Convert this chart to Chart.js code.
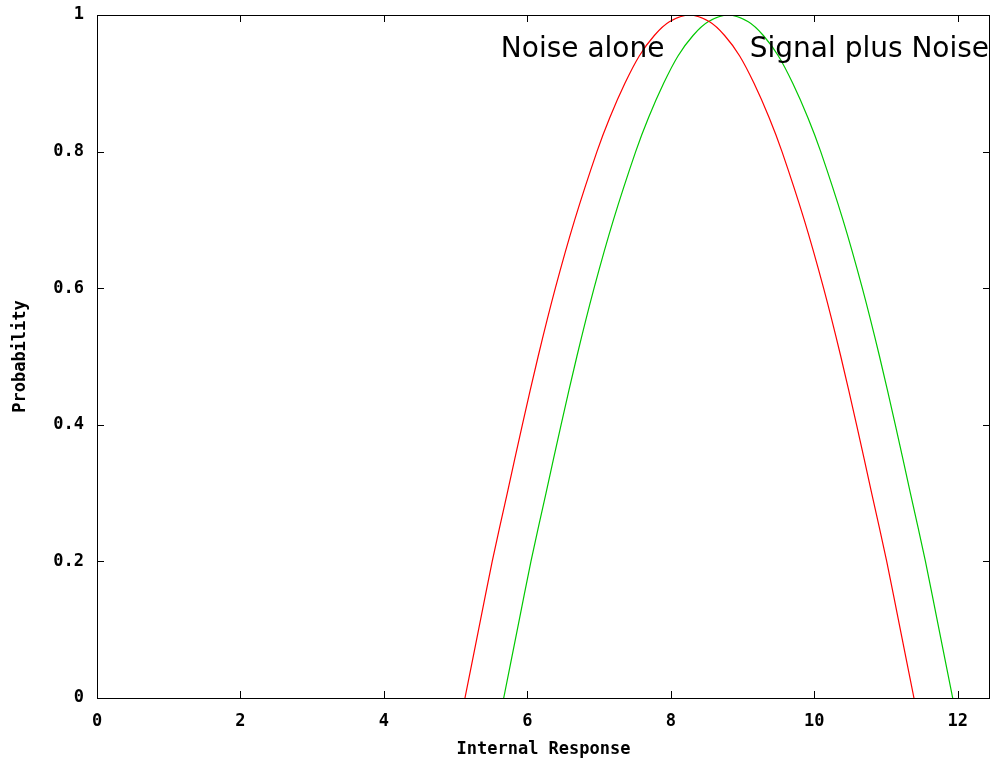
<!DOCTYPE html>
<html>
<head>
<meta charset="utf-8">
<script src="https://cdn.jsdelivr.net/npm/chart.js@4/dist/chart.umd.min.js"></script>
<style>
  html, body { margin: 0; padding: 0; background: #ffffff; }
  #wrap { width: 992px; height: 762px; }
</style>
</head>
<body>
<div id="wrap"><canvas id="c" width="992" height="762"></canvas></div>
<script>
// ---- data ----
const noiseX  = [5.13, 5.32, 5.51, 5.72, 5.93, 6.15, 6.39, 6.66, 6.97, 7.15, 7.36, 7.56, 7.77, 7.98, 8.26,
                 8.54, 8.75, 8.96, 9.16, 9.37, 9.55, 9.86, 10.13, 10.37, 10.59, 10.80, 11.01, 11.20, 11.39];
const noiseY  = [0.00, 0.10, 0.20, 0.30, 0.40, 0.50, 0.60, 0.70, 0.80, 0.85, 0.90, 0.94, 0.97, 0.99, 1.00,
                 0.99, 0.97, 0.94, 0.90, 0.85, 0.80, 0.70, 0.60, 0.50, 0.40, 0.30, 0.20, 0.10, 0.00];
const signalX = [5.67, 5.86, 6.05, 6.26, 6.47, 6.69, 6.93, 7.20, 7.51, 7.69, 7.90, 8.10, 8.31, 8.52, 8.80,
                 9.08, 9.29, 9.50, 9.70, 9.91, 10.09, 10.40, 10.67, 10.91, 11.13, 11.34, 11.55, 11.74, 11.93];
const signalY = [0.00, 0.10, 0.20, 0.30, 0.40, 0.50, 0.60, 0.70, 0.80, 0.85, 0.90, 0.94, 0.97, 0.99, 1.00,
                 0.99, 0.97, 0.94, 0.90, 0.85, 0.80, 0.70, 0.60, 0.50, 0.40, 0.30, 0.20, 0.10, 0.00];
const xTicks = [0, 2, 4, 6, 8, 10, 12];
const yTicks = [0, 0.2, 0.4, 0.6, 0.8, 1];
const curveLabels = ["Noise alone", "Signal plus Noise"];
const curveLabelX = [5.63, 9.10];
const curveLabelY = [0.938, 0.938];

const monoFont = { family: "'DejaVu Sans Mono', monospace", size: 17, weight: 'bold' };

const toPts = (xs, ys) => xs.map((x, i) => ({ x: x, y: ys[i] }));

const framePlugin = {
  id: 'frame',
  afterDatasetsDraw(chart) {
    const ctx = chart.ctx;
    const a = chart.chartArea;
    const xs = chart.scales.x, ys = chart.scales.y;
    ctx.save();
    // curve labels
    ctx.fillStyle = '#000';
    ctx.font = "28px 'DejaVu Sans', sans-serif";
    ctx.textAlign = 'left';
    ctx.textBaseline = 'alphabetic';
    curveLabels.forEach((t, i) => {
      ctx.fillText(t, xs.getPixelForValue(curveLabelX[i]), ys.getPixelForValue(curveLabelY[i]));
    });
    // border
    ctx.strokeStyle = '#000';
    ctx.lineWidth = 1;
    ctx.strokeRect(Math.round(a.left) + 0.5, Math.round(a.top) + 0.5,
                   Math.round(a.right - a.left) - 1, Math.round(a.bottom - a.top));
    // inward ticks, mirrored
    const L = 7;
    ctx.beginPath();
    xs.ticks.forEach(t => {
      const px = Math.round(xs.getPixelForValue(t.value)) + 0.5;
      ctx.moveTo(px, a.bottom); ctx.lineTo(px, a.bottom - L);
      ctx.moveTo(px, a.top); ctx.lineTo(px, a.top + L);
    });
    ys.ticks.forEach(t => {
      const py = Math.round(ys.getPixelForValue(t.value)) + 0.5;
      ctx.moveTo(a.left, py); ctx.lineTo(a.left + L, py);
      ctx.moveTo(a.right, py); ctx.lineTo(a.right - L, py);
    });
    ctx.stroke();
    ctx.restore();
  }
};

new Chart(document.getElementById('c'), {
  type: 'line',
  data: {
    datasets: [
      { label: 'Noise alone', data: toPts(noiseX, noiseY), borderColor: '#ff0000',
        borderWidth: 1.2, pointRadius: 0, tension: 0.3, fill: false },
      { label: 'Signal plus Noise', data: toPts(signalX, signalY), borderColor: '#00c800',
        borderWidth: 1.2, pointRadius: 0, tension: 0.3, fill: false }
    ]
  },
  options: {
    responsive: false,
    animation: false,
    devicePixelRatio: 1,
    layout: { padding: { top: 15, right: 2, left: 0, bottom: 0 } },
    plugins: { legend: { display: false }, tooltip: { enabled: false } },
    scales: {
      x: {
        type: 'linear', min: 0, max: 12.45,
        afterBuildTicks: s => { s.ticks = xTicks.map(v => ({ value: v })); },
        afterFit: s => { s.height = 64; s.paddingLeft = 0; s.paddingRight = 0; },
        grid: { display: false, drawTicks: false },
        border: { display: false },
        ticks: { color: '#000', font: monoFont, padding: 13, maxRotation: 0,
                 callback: v => String(v) },
        title: { display: true, text: 'Internal Response', color: '#000', font: monoFont,
                 padding: { top: 0, bottom: 2 } }
      },
      y: {
        type: 'linear', min: 0, max: 1,
        afterBuildTicks: s => { s.ticks = yTicks.map(v => ({ value: v })); },
        afterFit: s => { s.width = 97; s.paddingTop = 0; s.paddingBottom = 0; },
        grid: { display: false, drawTicks: false },
        border: { display: false },
        ticks: { color: '#000', font: monoFont, padding: 13,
                 callback: v => String(v) },
        title: { display: true, text: 'Probability', color: '#000', font: monoFont,
                 padding: { top: 10, bottom: 0 } }
      }
    }
  },
  plugins: [framePlugin]
});
</script>
</body>
</html>
